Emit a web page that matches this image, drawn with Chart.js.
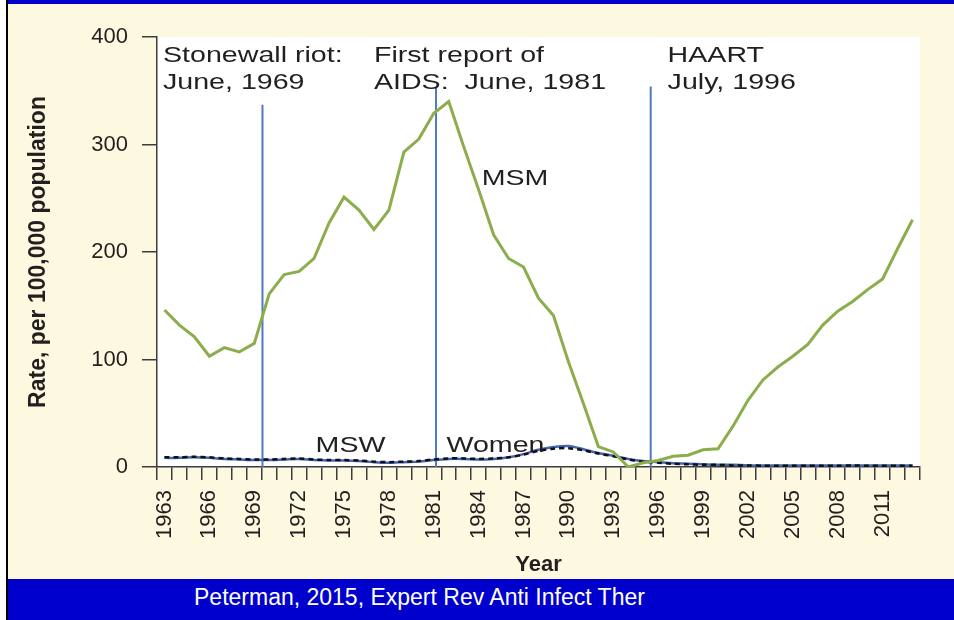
<!DOCTYPE html>
<html>
<head>
<meta charset="utf-8">
<script src="https://cdn.jsdelivr.net/npm/chart.js@4"></script>
<style>
  body { margin:0; background:#ffffff; }
  #page { position:relative; width:954px; height:620px; overflow:hidden; }
  .edge { position:absolute; left:6px; top:0; width:2px; height:620px; background:#000; }
  .cream { position:absolute; left:8px; top:0; right:0; height:579px; background:#fdf9e1; }
  .topbar { position:absolute; left:8px; top:0; right:0; height:4px; background:#0000cc; }
  .cite { position:absolute; left:8px; top:579px; right:0; height:41px; background:#0000cc;
          color:#fff; font:23px "Liberation Sans", Arial, sans-serif; line-height:36px; padding-left:186px; box-sizing:border-box; }
  canvas { position:absolute; left:0; top:0; }
</style>
</head>
<body>
<div id="page">
  <div class="cream"></div>
  <div class="topbar"></div>
  <div class="edge"></div>
  <div class="cite">Peterman, 2015, Expert Rev Anti Infect Ther</div>
  <canvas id="chart" width="954" height="620"></canvas>
</div>
<script>
	// years on the x axis
	const years = [1963,1964,1965,1966,1967,1968,1969,1970,1971,1972,1973,1974,1975,1976,1977,1978,1979,1980,1981,1982,
	               1983,1984,1985,1986,1987,1988,1989,1990,1991,1992,1993,1994,1995,1996,1997,1998,1999,2000,2001,2002,
	               2003,2004,2005,2006,2007,2008,2009,2010,2011,2012,2013];
	const tickLabels = [1963,1966,1969,1972,1975,1978,1981,1984,1987,1990,1993,1996,1999,2002,2005,2008,2011];
	// rate per 100,000 population
	const msm   = [146,132,121,103,111,107,115,161,179,182,194,227,251,239,221,239,293,305,329,340,
	               298,258,216,194,186,157,141,98,59,19,14,0,4,6,10,11,16,17,38,62,
	               81,93,103,114,132,145,154,165,175,203,230];
	const msw   = [9,9,9.5,9,8,7.5,7,7,7.5,8,7,6.5,6.5,6,5,4.5,5,5.5,7,8,
	               8,7.5,8,9,11.5,15,17,17.5,15.5,12.5,10,7,5,4,3,2.5,2,2,1.5,1.5,
	               1.2,1.2,1.2,1.2,1.2,1.2,1.5,1.2,1.2,1.2,1.2];
	const women = [8.5,8.5,9,8.5,7.5,7,6.5,6.5,7,7.5,6.5,6,6,5.5,4.5,4,4.5,5,6.5,7.5,
	               7.5,7,7.5,9,12,16,18.5,19.5,16.5,13,10.5,7.5,5.5,4.5,3.5,3,2.5,2,2,1.5,
	               1.5,1.5,1.5,1.5,1.5,1.5,1.5,1.5,1.5,1.5,1.5];
	// event markers: when, and how high the line is drawn
	const eventYears = [1969.55, 1981.15, 1995.5];
	const eventTops  = [337, 353, 354];
	// text notes in the plot (data units, baseline of first line)
	const notes = [
		{ lines:['Stonewall riot:','June, 1969'], x:1962.9, y:377 },
		{ lines:['First report of','AIDS:  June, 1981'], x:1977.0, y:377 },
		{ lines:['HAART','July, 1996'], x:1996.63, y:377 },
		{ lines:['MSM'], x:1984.2, y:262 },
		{ lines:['MSW'], x:1973.1, y:14 },
		{ lines:['Women'], x:1981.85, y:14 }
	];

	const ink = '#231f20', axisCol = '#3c3c3c';
	const font = '"Liberation Sans", Arial, sans-serif';
	const tickEdges = years.map(y => y - 0.5).concat([years[years.length-1] + 0.5]);
	const pts = arr => years.map((y, i) => ({ x: y, y: arr[i] }));

	const plotBg = {
		id: 'plotBg',
		beforeDraw(chart) {
			const a = chart.chartArea, c = chart.ctx;
			c.save();
			c.fillStyle = '#ffffff';
			c.fillRect(a.left, a.top, a.right - a.left, a.bottom - a.top);
			c.restore();
		}
	};
	const noteText = {
		id: 'noteText',
		afterDatasetsDraw(chart) {
			const c = chart.ctx, xs = chart.scales.x, ys = chart.scales.y;
			c.save();
			c.fillStyle = ink;
			c.font = '22px ' + font;
			c.textBaseline = 'alphabetic';
			notes.forEach(n => {
				const px = xs.getPixelForValue(n.x), py = ys.getPixelForValue(n.y);
				n.lines.forEach((t, i) => {
					c.save();
					c.translate(px, py + i * 27);
					c.scale(1.3, 1);   // figure text is wide
					c.fillText(t, 0, 0);
					c.restore();
				});
			});
			c.restore();
		}
	};

	const datasets = [
		{ label:'MSM', data: pts(msm), borderColor:'#8cad4c', borderWidth:3, tension:0, order:1 },
		{ label:'MSW', data: pts(msw), borderColor:'#111111', borderWidth:2.5, borderDash:[5,4], tension:0.3, order:2 },
		{ label:'Women', data: pts(women), borderColor:'#4464b4', borderWidth:2.5, tension:0.3, order:3 }
	];
	eventYears.forEach((ey, i) => {
		datasets.push({ label:'event' + i, data:[{x:ey, y:0}, {x:ey, y:eventTops[i]}],
			borderColor:'#5079c4', borderWidth:2, order:4 });
	});

	const ctx = document.getElementById('chart').getContext('2d');
	const chart = new Chart(ctx, {
		type: 'line',
		data: { datasets: datasets },
		options: {
			responsive: false,
			animation: false,
			elements: { point: { radius:0, hoverRadius:0 } },
			layout: { padding: { left:0, right:34, top:37, bottom:41 } },
			plugins: { legend:{ display:false }, tooltip:{ enabled:false } },
			scales: {
				x: {
					type:'linear', position:'bottom', min:1962.5, max:2013.5,
					afterBuildTicks: s => { s.ticks = tickEdges.map(v => ({ value:v })); },
					afterFit: s => { s.height = 13; },
					ticks: { display:false },
					grid: { drawOnChartArea:false, tickLength:13, color:axisCol, lineWidth:1.5 },
					border: { color:axisCol, width:1.5 }
				},
				xl: {
					type:'linear', position:'bottom', min:1962.5, max:2013.5, weight:1,
					afterBuildTicks: s => { s.ticks = tickLabels.map(v => ({ value:v })); },
					afterFit: s => { s.height = 99; },
					ticks: { autoSkip:false, minRotation:90, maxRotation:90, padding:10, color:ink,
					         font:{ family:font, size:22 }, callback: v => String(v) },
					grid: { display:false, drawTicks:false },
					border: { display:false },
					title: { display:true, text:'Year', color:ink, font:{ family:font, size:22, weight:'bold' },
					         padding:{ top:0, bottom:1 } }
				},
				y: {
					min:0, max:400,
					afterFit: s => { s.width = 157; },
					ticks: { stepSize:100, padding:14, color:ink, font:{ family:font, size:22 } },
					grid: { drawOnChartArea:false, tickLength:15, color:axisCol, lineWidth:1.5 },
					border: { color:axisCol, width:1.5 },
					title: { display:true, text:'Rate, per 100,000 population', color:ink,
					         font:{ family:font, size:23, weight:'bold' }, padding:{ top:25 } }
				}
			}
		},
		plugins: [plotBg, noteText]
	});
</script>
</body>
</html>
